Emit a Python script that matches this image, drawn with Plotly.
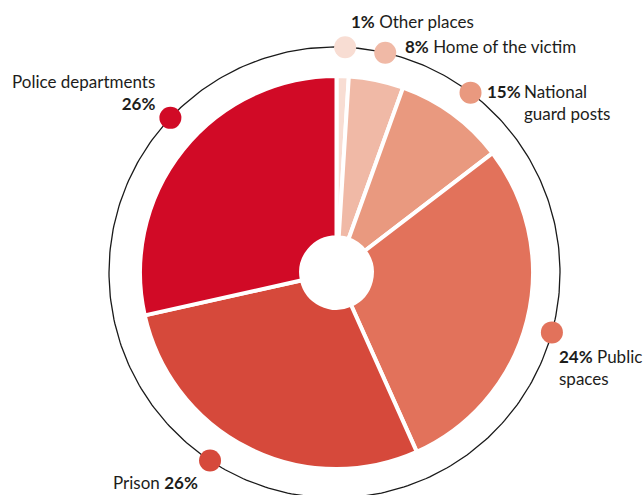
import numpy as np
import plotly.graph_objects as go

# ---- data ----
categories = ["Other places", "Home of the victim", "National guard posts",
              "Public spaces", "Prison", "Police departments"]
slice_values = [1.0, 4.5, 9.1, 28.7, 28.2, 28.5]          # slice sizes as drawn
pct_labels = ["1%", "8%", "15%", "24%", "26%", "26%"]     # printed percentages
marker_angles = [2.7, 13.0, 37.1, 105.4, 213.5, 313.3]    # degrees clockwise from top
colors = ["#f8ddd3", "#f0b9a6", "#e9997f", "#e2725b", "#d6493b", "#d10a26"]

# ---- layout constants (pixels) ----
W, H = 644, 495
PIE_CX, PIE_CY, PIE_R = 336.5, 272.5, 196.5
RING_CX, RING_CY, RING_R = 334.5, 272.5, 225.5
FONT = "Lato, 'Open Sans', sans-serif"
TXT = "#1d1d1b"

fig = go.Figure()

# outer ring (decorative) on a pixel-scaled hidden cartesian axis
t = np.radians(np.linspace(0, 360, 361))
fig.add_trace(go.Scatter(
    x=RING_CX + RING_R * np.sin(t), y=RING_CY - RING_R * np.cos(t),
    mode="lines", line=dict(color="#1a1a1a", width=1.3),
    hoverinfo="skip", showlegend=False))

# dots on the ring
a = np.radians(marker_angles)
fig.add_trace(go.Scatter(
    x=RING_CX + RING_R * np.sin(a), y=RING_CY - RING_R * np.cos(a),
    mode="markers", marker=dict(size=22, color=colors, line=dict(width=0)),
    hovertext=categories, hoverinfo="text", showlegend=False))

# the donut
fig.add_trace(go.Pie(
    labels=categories, values=slice_values, sort=False, direction="clockwise",
    rotation=0, hole=0.18, textinfo="none",
    marker=dict(colors=colors, line=dict(color="white", width=4)),
    domain=dict(x=[(PIE_CX - PIE_R) / W, (PIE_CX + PIE_R) / W],
                y=[1 - (PIE_CY + PIE_R) / H, 1 - (PIE_CY - PIE_R) / H]),
    showlegend=False, hovertemplate="%{label}<extra></extra>"))

def ann(x, y, text, xanchor="left", align="left"):
    fig.add_annotation(x=x, y=y, xref="x", yref="y", text=text, showarrow=False,
                       xanchor=xanchor, yanchor="middle", align=align,
                       font=dict(family=FONT, size=17, color=TXT))

ann(349, 21, f"<b>{pct_labels[0]}</b> {categories[0]}")
ann(403, 46, f"<b>{pct_labels[1]}</b> {categories[1]}")
ann(485, 91, f"<b>{pct_labels[2]}</b>")
ann(522, 102, "National<br>guard posts")
ann(557, 367, f"<b>{pct_labels[3]}</b> Public<br>spaces")
ann(157, 92, f"{categories[5]}<br><b>{pct_labels[5]}</b>", xanchor="right", align="right")
ann(111, 482, f"{categories[4]} <b>{pct_labels[4]}</b>")

fig.update_layout(
    width=W, height=H, margin=dict(l=0, r=0, t=0, b=0),
    paper_bgcolor="white", plot_bgcolor="white",
    xaxis=dict(range=[0, W], visible=False, fixedrange=True, domain=[0, 1]),
    yaxis=dict(range=[H, 0], visible=False, fixedrange=True, domain=[0, 1]),
    showlegend=False,
)

fig.write_html("out.html",
               config={"displayModeBar": False},
               post_script="document.body.style.margin='0px';"
                           "document.body.style.overflow='hidden';")
